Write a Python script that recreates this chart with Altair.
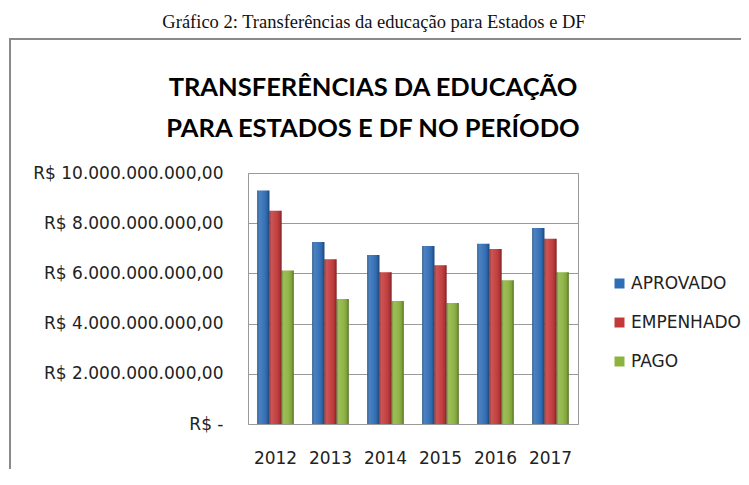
import altair as alt
import pandas as pd

# ---- data ----
years = ["2012", "2013", "2014", "2015", "2016", "2017"]
aprovado = [9.30e9, 7.25e9, 6.73e9, 7.09e9, 7.18e9, 7.81e9]
empenhado = [8.50e9, 6.56e9, 6.05e9, 6.32e9, 6.97e9, 7.38e9]
pago = [6.12e9, 4.98e9, 4.90e9, 4.82e9, 5.73e9, 6.05e9]
series = ["APROVADO", "EMPENHADO", "PAGO"]
colors = ["#2F6DB6", "#C3393A", "#8DB33F"]
y_ticks = [0, 2e9, 4e9, 6e9, 8e9, 10e9]
caption = ["Gráfico 2: Transferências da educação para Estados e DF"]
title_line1 = ["TRANSFERÊNCIAS DA EDUCAÇÃO"]
title_line2 = ["PARA ESTADOS E DF NO PERÍODO"]

rows = []
for i, yr in enumerate(years):
    for s, vals in zip(series, [aprovado, empenhado, pago]):
        rows.append({"ano": yr, "serie": s, "valor": vals[i]})
df = pd.DataFrame(rows)

W, H = 330, 251
PL, PT, PR, PB = 240, 165, 163, 45
LABEL_FONT = "DejaVu Sans"
TXT = "#222222"
GRAY = "#9a9a9a"

x_enc = alt.X("ano:N", sort=years,
              scale=alt.Scale(paddingInner=0.335, paddingOuter=0.1675),
              axis=alt.Axis(title=None, labelAngle=0, ticks=False, domain=False,
                            labelFont=LABEL_FONT, labelFontSize=17, labelColor=TXT,
                            labelPadding=26))
xo_enc = alt.XOffset("serie:N", sort=series, scale=alt.Scale(domain=series))
y_enc = alt.Y("valor:Q",
              scale=alt.Scale(domain=[0, 10e9], nice=False),
              axis=alt.Axis(title=None, values=y_ticks, ticks=False,
                            domain=False, gridColor=GRAY, gridWidth=1,
                            labelFont=LABEL_FONT, labelFontSize=17, labelColor=TXT,
                            labelPadding=25, labelLimit=400,
                            labelExpr="datum.value == 0 ? 'R$ -\u00a0\u00a0\u00a0' : 'R$ ' + format(datum.value / 1e9, 'd') + '.000.000.000,00'"))

bars = alt.Chart(df).mark_bar().encode(
    x=x_enc, xOffset=xo_enc, y=y_enc,
    color=alt.Color("serie:N", sort=series,
                    scale=alt.Scale(domain=series, range=colors),
                    legend=alt.Legend(orient="none", legendX=363, legendY=102,
                                      title=None, symbolType="square",
                                      symbolSize=100, symbolStrokeWidth=0,
                                      labelFont=LABEL_FONT, labelFontSize=17,
                                      labelColor=TXT, rowPadding=21,
                                      labelOffset=3, padding=0, labelLimit=400)),
)

shade = alt.Chart(df).mark_bar(
    fill=alt.Gradient(
        gradient="linear", x1=0, x2=1, y1=0, y2=0,
        stops=[
            alt.GradientStop(color="rgba(0,0,0,0.30)", offset=0),
            alt.GradientStop(color="rgba(255,255,255,0.14)", offset=0.18),
            alt.GradientStop(color="rgba(255,255,255,0.06)", offset=0.5),
            alt.GradientStop(color="rgba(0,0,0,0.10)", offset=0.82),
            alt.GradientStop(color="rgba(0,0,0,0.38)", offset=1),
        ],
    )
).encode(x=x_enc, xOffset=xo_enc, y=y_enc)

cap = alt.Chart(pd.DataFrame({"t": caption})).mark_text(
    font="Liberation Serif", fontSize=18.5, color="#111111",
    align="center", baseline="alphabetic"
).encode(text="t:N", x=alt.value(126), y=alt.value(-145))

ttl1 = alt.Chart(pd.DataFrame({"t": title_line1})).mark_text(
    font="Lato", fontSize=25.5, fontWeight="bold",
    color="#000000", align="center", baseline="alphabetic"
).encode(text="t:N", x=alt.value(125), y=alt.value(-77))

ttl2 = alt.Chart(pd.DataFrame({"t": title_line2})).mark_text(
    font="Lato", fontSize=25.5, fontWeight="bold",
    color="#000000", align="center", baseline="alphabetic"
).encode(text="t:N", x=alt.value(125), y=alt.value(-36))

box_v = alt.Chart(pd.DataFrame({"a": [0]})).mark_rule(
    color="#8a8a8a", strokeWidth=2
).encode(x=alt.value(-238), y=alt.value(-134), y2=alt.value(H + 80))

box_h = alt.Chart(pd.DataFrame({"a": [0]})).mark_rule(
    color="#8a8a8a", strokeWidth=2
).encode(x=alt.value(-239), x2=alt.value(W + 200), y=alt.value(-134))

chart = alt.layer(bars, shade, cap, ttl1, ttl2, box_v, box_h).properties(
    width=W, height=H,
    autosize=alt.AutoSizeParams(type="none"),
    padding={"left": PL, "top": PT, "right": PR, "bottom": PB},
).configure_view(stroke=GRAY, strokeWidth=1)

chart.save("out.html", embed_options={"renderer": "svg", "actions": False})
